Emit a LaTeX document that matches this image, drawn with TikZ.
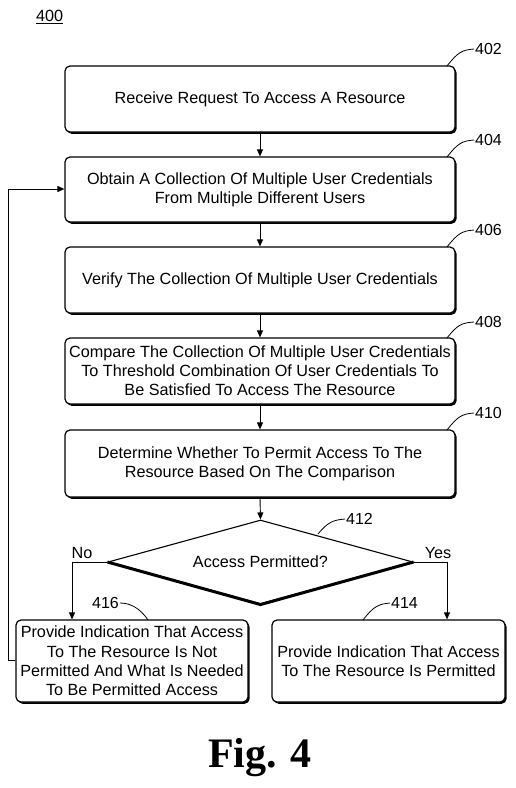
\documentclass[tikz,border=0pt]{standalone}
\usepackage{fontspec}
\setmainfont{Liberation Sans}
\newfontfamily\figfont{Liberation Serif}
\usetikzlibrary{shapes.geometric,shadows,arrows.meta}
\begin{document}
\begin{tikzpicture}[x=1pt,y=-1pt,
  every node/.style={font=\fontsize{16.2}{19.2}\selectfont},
  stepbox/.style={draw,line width=1.2pt,rounded corners=5pt,fill=white,align=center,inner sep=0pt,
    drop shadow={shadow xshift=1.6pt,shadow yshift=-1.8pt,fill=black,opacity=1}},
  arr/.style={-{Triangle[length=7pt,width=6pt]},line width=0.9pt},
  lead/.style={line width=0.8pt},
  numlbl/.style={font=\fontsize{16}{19}\selectfont,inner sep=1pt}]
\useasboundingbox (0,0) rectangle (515,788);
\node[anchor=west,inner sep=0pt] (fignum) at (36,17) {\underline{400}};

\node[stepbox,minimum width=390pt,minimum height=66pt] (b402) at (260,99) {Receive Request To Access A Resource};
\node[stepbox,minimum width=390pt,minimum height=65pt] (b404) at (260,189.5) {Obtain A Collection Of Multiple User Credentials\\From Multiple Different Users};
\node[stepbox,minimum width=390pt,minimum height=66pt] (b406) at (260,280) {Verify The Collection Of Multiple User Credentials};
\node[stepbox,minimum width=390pt,minimum height=66pt] (b408) at (260,371) {Compare The Collection Of Multiple User Credentials\\To Threshold Combination Of User Credentials To\\Be Satisfied To Access The Resource};
\node[stepbox,minimum width=390pt,minimum height=67pt] (b410) at (260,463.5) {Determine Whether To Permit Access To The\\Resource Based On The Comparison};
\node[draw,diamond,line width=1.1pt,minimum width=305pt,minimum height=84pt,inner sep=0pt,aspect=3.6,fill=white] (d412) at (260.5,562) {Access Permitted?};
\draw[line width=3pt,line join=miter] (d412.west) -- (d412.south) -- (d412.east);
\node[stepbox,minimum width=232pt,minimum height=82pt] (b416) at (132,661) {Provide Indication That Access\\To The Resource Is Not\\Permitted And What Is Needed\\To Be Permitted Access};
\node[stepbox,minimum width=233pt,minimum height=82pt] (b414) at (388.5,661) {Provide Indication That Access\\To The Resource Is Permitted};

% connectors
\draw[arr] (b402.south) -- (b404.north);
\draw[arr] (b404.south) -- (b406.north);
\draw[arr] (b406.south) -- (b408.north);
\draw[arr] (b408.south) -- (b410.north);
\draw[arr] (b410.south) -- (d412.north);
\draw[arr] (d412.west) -| (b416.north -| 72,0);
\draw[arr] (d412.east) -| (b414.north -| 447,0);
\coordinate (fbx) at (8,0);
\draw[arr] (b416.west |- 0,660) -- (fbx |- 0,660) -- (fbx |- 0,189) -- (b404.west |- 0,189);

\node[anchor=south,inner sep=1pt] (lno) at (82,560) {No};
\node[anchor=south,inner sep=1pt] (lyes) at (438,560) {Yes};

% reference numerals
\node[numlbl,anchor=west] (n402) at (474,49) {402};
\draw[lead] (447,66) .. controls (458,52) and (462,50) .. (n402.west);
\node[numlbl,anchor=west] (n404) at (474,140) {404};
\draw[lead] (447,157) .. controls (458,143) and (462,141) .. (n404.west);
\node[numlbl,anchor=west] (n406) at (474,230) {406};
\draw[lead] (447,247) .. controls (458,233) and (462,231) .. (n406.west);
\node[numlbl,anchor=west] (n408) at (474,322) {408};
\draw[lead] (447,338) .. controls (458,324) and (462,323) .. (n408.west);
\node[numlbl,anchor=west] (n410) at (474,413) {410};
\draw[lead] (447,430) .. controls (458,416) and (462,414) .. (n410.west);
\node[numlbl,anchor=west] (n412) at (345,519) {412};
\draw[lead] (318,534) .. controls (328,522) and (333,520) .. (n412.west);
\node[numlbl,anchor=west] (n414) at (390,603) {414};
\draw[lead] (363,620) .. controls (373,607) and (378,604) .. (n414.west);
\node[numlbl,anchor=east] (n416) at (120,603) {416};
\draw[lead] (n416.east) .. controls (130,603) and (140,608) .. (148,620);

\node[font=\figfont\bfseries\fontsize{42}{46}\selectfont,inner sep=0pt] (fig) at (260,758) {Fig. 4};
\end{tikzpicture}
\end{document}
